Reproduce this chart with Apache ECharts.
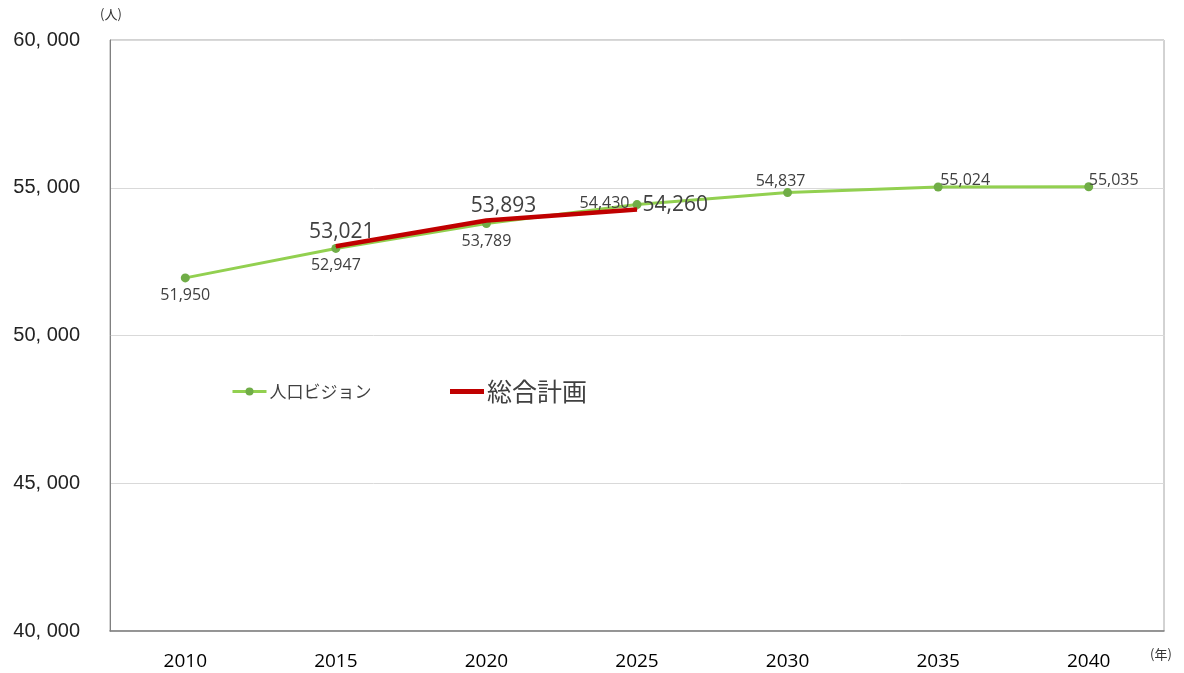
<!DOCTYPE html>
<html lang="ja">
<head>
    <meta charset="UTF-8">
    <title></title>
    <script type="text/javascript" src="https://cdn.jsdelivr.net/npm/echarts@6/dist/echarts.min.js"></script>
</head>
<body style="margin:0">
<div id="chart" style="width:1184px;height:673px"></div>
<script type="text/javascript">
    var years = ['2010', '2015', '2020', '2025', '2030', '2035', '2040'];
    var visionValues = [51950, 52947, 53789, 54430, 54837, 55024, 55035];
    var planValues = [null, 53021, 53893, 54260, null, null, null];
    var seriesNames = ['人口ビジョン', '総合計画'];

    // label placement for each point (style only)
    var visionLabelPos = ['bottom', 'bottom', 'bottom', 'left', 'top', 'top', 'top'];
    var visionLabelOffset = [[0, 0], [0, 0], [0, 0], [2, -1], [-7, 6], [27, 11], [25, 11]];
    var planLabelPos = ['top', 'top', 'top', 'right', 'top', 'top', 'top'];
    var planLabelOffset = [[0, 0], [6, 2], [17, 2], [0, -5], [0, 0], [0, 0], [0, 0]];

    function fmt(v) {
        return v.toString().replace(/\B(?=(\d{3})+(?!\d))/g, ',');
    }

    var visionData = visionValues.map(function (v, i) {
        return {
            value: v,
            label: {position: visionLabelPos[i], offset: visionLabelOffset[i]}
        };
    });
    var planData = planValues.map(function (v, i) {
        return {value: v, label: {position: planLabelPos[i], offset: planLabelOffset[i]}};
    });

    var myChart = echarts.init(document.getElementById('chart'));
    var option = {
        animation: false,
        grid: {
            left: 110, right: 20, top: 40, bottom: 42,
            show: true, borderColor: '#a6a6a6', borderWidth: 1
        },
        legend: {
            left: 226, top: 374, itemGap: 76, itemWidth: 34, itemHeight: 10,
            data: [
                {name: seriesNames[0], textStyle: {fontSize: 17, color: '#404040'},
                    lineStyle: {width: 3}},
                {name: seriesNames[1], textStyle: {fontSize: 25, color: '#404040'},
                    itemStyle: {opacity: 0}, lineStyle: {width: 5}}
            ],
            textStyle: {fontFamily: 'Noto Sans CJK JP', padding: [0, 0, 0, -2]}
        },
        xAxis: {
            type: 'category',
            data: years,
            boundaryGap: true,
            axisTick: {show: false},
            axisLine: {lineStyle: {color: '#808080', width: 1.5}},
            axisLabel: {color: '#000', fontSize: 19, margin: 21, fontFamily: 'Open Sans'}
        },
        yAxis: {
            type: 'value',
            min: 40000, max: 60000, interval: 5000,
            axisLine: {show: true, lineStyle: {color: '#808080'}},
            axisTick: {show: false},
            splitLine: {lineStyle: {color: '#d9d9d9'}},
            axisLabel: {
                color: '#222', fontSize: 20, margin: 30, fontFamily: 'Liberation Sans',
                formatter: function (v) { return fmt(v).replace(',', ', '); }
            }
        },
        graphic: [
            {type: 'text', left: 100, top: 8, style: {text: '(人)', fontSize: 13, fill: '#333', fontFamily: 'Noto Sans CJK JP'}},
            {type: 'text', left: 1150, top: 648, style: {text: '(年)', fontSize: 13, fill: '#333', fontFamily: 'Noto Sans CJK JP'}}
        ],
        series: [
            {
                name: seriesNames[0],
                type: 'line',
                data: visionData,
                symbol: 'circle',
                symbolSize: 9,
                itemStyle: {color: '#70ad47'},
                lineStyle: {color: '#92d050', width: 3},
                label: {
                    show: true, fontSize: 16, color: '#404040', fontFamily: 'Open Sans',
                    formatter: function (p) { return fmt(p.value); }
                },
                z: 2
            },
            {
                name: seriesNames[1],
                type: 'line',
                data: planData,
                symbol: 'circle',
                symbolSize: 1,
                showSymbol: true,
                itemStyle: {color: '#c00000'},
                lineStyle: {color: '#c00000', width: 4.5},
                label: {
                    show: true, fontSize: 21, color: '#404040', fontFamily: 'Open Sans',
                    formatter: function (p) { return p.value == null ? '' : fmt(p.value); }
                },
                z: 3
            }
        ]
    };
    myChart.setOption(option);
</script>
</body>
</html>
